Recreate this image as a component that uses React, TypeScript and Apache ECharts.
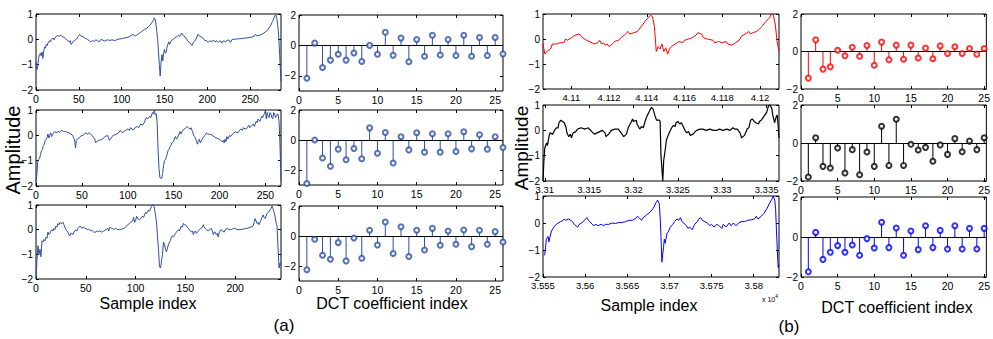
import React, { useEffect, useRef } from "react";
import * as echarts from "echarts";

// ---------- signals (a) ----------
const sigA1: [number, number][] = [[0,-0.9],[1,-1.2],[2,-1.05],[3,-0.75],[4,-0.6],[5,-0.55],[6,-0.65],[7,-0.5],[8,-0.75],[9,-0.45],[10,-0.3],[11,-0.35],[12,-0.2],[13,-0.25],[14,-0.15],[16,-0.05],[17,-0.1],[18,0.0],[20,0.05],[21,-0.02],[23,0.1],[25,0.15],[27,0.12],[29,0.16],[31,0.1],[33,0.08],[35,0.0],[37,-0.05],[39,-0.1],[40,-0.05],[41,-0.2],[43,-0.1],[45,-0.05],[47,0.0],[49,0.1],[51,0.2],[53,0.12],[55,0.1],[57,0.05],[60,0.0],[62,-0.05],[64,-0.1],[66,-0.05],[68,-0.08],[70,-0.02],[72,-0.06],[74,-0.1],[76,0.0],[78,-0.03],[80,-0.07],[83,-0.02],[86,-0.04],[89,-0.02],[92,-0.05],[95,0.0],[98,0.02],[101,0.03],[104,0.06],[107,0.08],[109,0.1],[111,0.15],[113,0.2],[115,0.14],[117,0.15],[119,0.2],[121,0.25],[123,0.3],[125,0.35],[127,0.4],[129,0.42],[131,0.5],[133,0.55],[135,0.65],[137,0.75],[138,0.85],[139,0.8],[140,0.6],[141,0.3],[142,0.0],[143,-0.5],[144,-1.0],[145,-1.45],[146,-0.9],[147,-0.6],[148,-0.85],[149,-0.55],[150,-0.4],[151,-0.55],[152,-0.5],[153,-0.3],[155,-0.1],[156,-0.2],[158,-0.05],[160,0.0],[162,0.05],[164,0.1],[166,0.15],[168,0.12],[170,0.25],[172,0.15],[174,0.1],[176,0.0],[178,-0.1],[180,-0.15],[182,-0.25],[184,-0.1],[186,-0.05],[188,0.1],[189,0.2],[191,0.12],[193,0.1],[195,0.05],[197,-0.05],[199,-0.05],[201,-0.12],[203,-0.05],[205,-0.1],[207,-0.03],[209,-0.1],[211,-0.05],[213,-0.12],[215,-0.05],[217,-0.15],[219,-0.05],[221,-0.1],[223,-0.05],[225,-0.02],[227,-0.12],[229,0.0],[232,0.0],[235,0.02],[238,0.02],[241,0.04],[244,0.05],[247,0.06],[250,0.08],[253,0.1],[255,0.12],[256,0.2],[258,0.14],[260,0.15],[262,0.18],[264,0.2],[266,0.25],[268,0.3],[270,0.35],[272,0.45],[274,0.55],[276,0.7],[278,0.85],[279,0.95],[280,0.97],[281,0.85],[282,0.6],[283,0.3],[284,-0.3],[285,-1.0],[286,-1.65]];

const sigA2: [number, number][] = [[0,-1.85],[1,-1.5],[2,-1.0],[3,-0.95],[4,-0.9],[5,-0.75],[6,-0.6],[7,-0.55],[8,-0.4],[9,-0.35],[10,-0.2],[11,-0.15],[12,-0.1],[13,0.05],[14,-0.1],[15,0.0],[16,0.1],[17,-0.05],[18,0.0],[19,0.1],[20,0.15],[22,0.1],[24,0.15],[26,0.12],[28,0.2],[30,0.15],[32,0.15],[34,0.12],[36,0.1],[38,0.05],[40,0.0],[41,-0.1],[42,-0.15],[43,-0.5],[44,-0.2],[45,-0.15],[47,-0.1],[49,-0.02],[51,0.0],[53,0.05],[54,0.1],[56,0.05],[58,0.1],[60,0.03],[61,0.0],[63,-0.1],[64,-0.15],[65,-0.3],[66,-0.25],[68,-0.2],[70,-0.18],[72,-0.15],[74,-0.1],[75,-0.05],[77,-0.02],[78,0.0],[79,-0.1],[80,-0.2],[82,-0.1],[84,0.0],[86,0.02],[88,0.05],[90,0.1],[92,0.2],[94,0.1],[96,0.15],[98,0.2],[100,0.25],[102,0.2],[103,0.3],[105,0.25],[106,0.2],[108,0.3],[110,0.35],[112,0.3],[114,0.45],[116,0.4],[118,0.5],[119,0.6],[120,0.7],[122,0.65],[124,0.75],[125,0.7],[127,0.9],[128,0.85],[129,1.0],[130,0.8],[131,0.85],[132,0.5],[133,-0.5],[134,-1.3],[135,-1.65],[136,-1.7],[137,-1.7],[138,-1.5],[139,-1.2],[140,-1.0],[141,-0.95],[142,-0.85],[143,-0.75],[144,-0.6],[145,-0.55],[146,-0.45],[147,-0.4],[148,-0.3],[150,-0.25],[151,-0.1],[152,-0.05],[153,-0.15],[154,-0.1],[156,0.05],[157,0.15],[158,0.05],[160,0.2],[162,0.25],[163,0.3],[165,0.35],[166,0.3],[168,0.25],[169,0.3],[170,0.2],[171,0.1],[172,0.0],[173,-0.05],[174,-0.15],[175,-0.25],[176,-0.35],[177,-0.2],[178,-0.15],[179,-0.3],[180,-0.25],[181,-0.15],[182,-0.1],[184,0.0],[186,0.1],[187,0.05],[189,0.05],[191,0.02],[192,0.0],[194,-0.05],[196,-0.1],[198,-0.12],[200,-0.15],[201,-0.2],[203,-0.25],[204,-0.2],[205,-0.3],[206,-0.15],[207,-0.25],[208,-0.05],[209,-0.15],[211,0.0],[212,-0.05],[214,0.05],[216,0.1],[217,0.15],[219,0.1],[220,0.1],[222,0.2],[223,0.25],[225,0.2],[226,0.3],[228,0.25],[229,0.25],[231,0.35],[232,0.4],[233,0.3],[234,0.35],[236,0.4],[237,0.45],[238,0.35],[240,0.55],[241,0.5],[242,0.65],[243,0.6],[244,0.55],[245,0.65],[246,0.75],[247,0.7],[248,0.8],[249,0.85],[250,1.0],[251,0.65],[252,0.9],[253,0.75],[254,0.7],[255,0.9],[256,0.85],[257,0.7],[258,0.65],[259,0.9],[260,0.85],[261,0.7],[262,0.75],[263,0.85],[264,0.8],[265,0.5],[266,-0.5],[267,-1.8]];

const sigA3: [number, number][] = [[0,-2.0],[1,-1.2],[2,-0.65],[3,-1.0],[4,-0.8],[5,-1.1],[6,-0.45],[7,-0.5],[8,-0.4],[9,-0.45],[10,-0.3],[11,-0.35],[12,-0.1],[13,-0.2],[14,-0.15],[15,-0.05],[16,0.0],[17,-0.05],[18,0.05],[19,0.0],[20,0.15],[21,0.1],[22,0.25],[23,0.2],[24,0.3],[25,0.25],[26,0.25],[27,0.3],[28,0.2],[29,0.1],[30,0.0],[31,-0.05],[32,-0.1],[33,-0.2],[34,-0.25],[35,-0.15],[36,-0.15],[37,-0.2],[38,-0.1],[39,-0.05],[40,0.0],[41,-0.05],[42,0.05],[43,0.1],[44,0.15],[45,0.1],[46,0.05],[47,0.1],[48,0.1],[49,0.05],[50,0.05],[52,0.0],[53,0.02],[55,-0.05],[56,-0.02],[58,-0.1],[60,-0.1],[61,-0.05],[63,-0.08],[64,-0.05],[66,-0.1],[68,-0.05],[70,0.0],[72,0.05],[73,-0.05],[74,0.1],[76,0.05],[77,0.05],[78,0.0],[80,0.05],[82,0.0],[84,0.0],[86,0.02],[88,0.05],[90,0.1],[92,0.2],[94,0.25],[95,0.3],[97,0.35],[98,0.5],[99,0.3],[100,0.35],[101,0.55],[102,0.45],[104,0.4],[105,0.45],[107,0.55],[108,0.5],[110,0.7],[111,0.65],[113,0.8],[114,0.75],[116,0.95],[117,1.0],[118,1.0],[119,0.85],[120,0.6],[121,0.3],[122,-0.3],[123,-0.8],[124,-1.5],[125,-1.55],[126,-1.3],[127,-1.0],[128,-0.5],[129,-0.6],[130,-0.8],[131,-0.9],[132,-0.75],[133,-0.6],[134,-0.5],[135,-0.45],[136,-0.3],[137,-0.25],[138,-0.3],[140,-0.15],[141,-0.1],[143,0.0],[144,-0.05],[146,0.15],[147,0.1],[148,0.25],[149,0.2],[150,0.2],[151,0.15],[152,0.1],[153,0.05],[154,0.0],[155,-0.05],[156,-0.1],[157,-0.05],[158,-0.2],[159,-0.1],[160,-0.05],[161,-0.15],[162,-0.1],[163,-0.05],[164,0.0],[165,0.05],[166,0.05],[167,0.1],[168,0.2],[169,0.1],[170,0.05],[171,0.0],[173,-0.05],[174,0.0],[176,0.05],[177,-0.05],[178,-0.2],[179,-0.1],[180,-0.1],[181,-0.2],[182,-0.15],[183,-0.3],[184,-0.1],[186,0.0],[187,-0.05],[189,-0.1],[190,0.0],[192,0.05],[194,0.0],[196,0.0],[198,0.05],[200,0.05],[202,0.0],[205,0.0],[208,0.02],[210,0.05],[212,0.05],[215,0.1],[217,0.12],[218,0.15],[219,0.3],[220,0.45],[221,0.35],[222,0.25],[223,0.3],[224,0.2],[225,0.3],[226,0.4],[227,0.5],[228,0.6],[229,0.5],[230,0.45],[231,0.55],[232,0.65],[233,0.7],[234,0.75],[235,0.8],[236,0.85],[237,0.95],[238,0.85],[239,0.7],[240,0.55],[241,0.3],[242,0.15],[243,-0.7],[244,-1.55],[245,-1.35],[246,-1.45]];

// ---------- signals (b) (sample index) ----------
const sigB1: [number, number][] = [[41085,-0.2],[41086,-0.6],[41087,-0.5],[41089,-0.4],[41090,-0.2],[41092,-0.2],[41094,-0.15],[41096,-0.15],[41097,0.0],[41098,-0.05],[41100,0.05],[41102,0.15],[41104,0.2],[41105,0.15],[41106,0.05],[41108,-0.05],[41111,-0.15],[41112,-0.2],[41114,-0.15],[41115,-0.05],[41116,-0.2],[41117,-0.15],[41118,-0.25],[41119,-0.2],[41120,-0.3],[41121,-0.25],[41123,-0.1],[41125,-0.05],[41127,0.1],[41128,0.15],[41130,0.3],[41131,0.2],[41133,0.25],[41135,0.3],[41136,0.4],[41138,0.6],[41140,0.8],[41142,0.95],[41143,0.9],[41144,0.5],[41145,-0.5],[41146,-0.3],[41147,-0.4],[41148,-0.2],[41149,-0.5],[41150,-0.35],[41151,-0.6],[41152,-0.4],[41153,-0.3],[41155,-0.2],[41157,-0.1],[41159,-0.15],[41160,-0.05],[41162,0.0],[41164,0.05],[41166,0.15],[41167,0.25],[41169,0.2],[41170,0.05],[41172,0.0],[41175,-0.05],[41176,-0.15],[41178,-0.1],[41180,-0.15],[41182,-0.1],[41183,-0.2],[41185,-0.25],[41187,-0.15],[41189,-0.05],[41190,0.1],[41192,0.2],[41194,0.3],[41195,0.2],[41196,0.25],[41198,0.3],[41199,0.35],[41201,0.5],[41203,0.7],[41205,0.85],[41206,1.0],[41207,0.95],[41208,0.6],[41209,-0.1],[41210,-0.5]];

const sigB2: [number, number][] = [[33098,-2.0],[33099,-1.2],[33100,-0.7],[33102,-0.5],[33103,-0.6],[33105,-0.2],[33106,-0.1],[33109,-0.15],[33111,0.0],[33113,0.1],[33115,0.1],[33116,0.3],[33118,0.4],[33120,0.35],[33122,0.3],[33124,0.1],[33125,-0.1],[33127,-0.25],[33129,-0.15],[33130,-0.3],[33132,-0.1],[33135,-0.05],[33137,0.05],[33141,0.1],[33145,0.05],[33149,0.1],[33153,-0.05],[33156,-0.15],[33159,-0.1],[33162,-0.05],[33165,0.0],[33168,-0.1],[33169,-0.25],[33172,-0.15],[33175,0.0],[33179,0.05],[33183,0.05],[33186,-0.1],[33189,-0.25],[33192,-0.15],[33194,0.1],[33197,0.3],[33199,0.45],[33200,0.35],[33203,0.4],[33204,0.25],[33207,0.05],[33209,0.15],[33211,0.1],[33213,0.35],[33215,0.55],[33218,0.75],[33220,0.9],[33222,0.85],[33224,0.6],[33226,0.4],[33229,0.4],[33230,0.35],[33231,-1.0],[33233,-2.0],[33234,-1.2],[33236,-0.7],[33237,-0.4],[33239,-0.2],[33241,-0.05],[33243,0.1],[33245,0.2],[33247,0.15],[33248,0.3],[33250,0.35],[33252,0.25],[33254,0.3],[33256,0.15],[33258,0.0],[33260,-0.1],[33262,-0.05],[33264,-0.2],[33267,-0.15],[33271,0.0],[33275,0.05],[33278,0.05],[33282,0.0],[33286,0.05],[33290,0.0],[33294,0.0],[33297,0.05],[33301,0.0],[33305,0.05],[33309,0.0],[33312,0.1],[33314,0.05],[33317,0.05],[33320,-0.1],[33322,-0.3],[33325,-0.2],[33327,-0.05],[33328,0.05],[33330,0.1],[33332,0.4],[33334,0.45],[33336,0.35],[33338,0.3],[33341,0.25],[33342,0.35],[33344,0.4],[33347,0.55],[33350,0.7],[33352,0.95],[33354,1.0],[33356,0.85],[33357,0.6],[33359,0.3],[33361,0.55],[33362,0.6],[33363,0.2],[33364,-0.3]];

const sigB3: [number, number][] = [[35552,-1.2],[35553,-0.9],[35554,-0.6],[35556,-0.5],[35557,-0.7],[35558,-0.55],[35560,-0.3],[35562,-0.2],[35564,-0.1],[35566,-0.05],[35568,0.0],[35571,0.05],[35574,0.1],[35575,0.15],[35577,0.1],[35580,0.15],[35583,0.1],[35585,0.05],[35587,-0.05],[35589,-0.1],[35591,-0.15],[35593,-0.05],[35596,0.0],[35599,0.1],[35602,0.2],[35604,0.1],[35607,0.0],[35610,-0.1],[35613,-0.05],[35615,-0.1],[35619,-0.05],[35622,-0.1],[35624,-0.05],[35628,-0.05],[35632,0.0],[35636,-0.02],[35640,0.02],[35644,0.02],[35648,0.05],[35652,0.1],[35656,0.1],[35659,0.15],[35662,0.25],[35664,0.2],[35667,0.1],[35669,0.2],[35673,0.3],[35677,0.4],[35681,0.55],[35684,0.75],[35686,0.85],[35688,0.7],[35689,0.2],[35690,-0.5],[35691,-1.45],[35693,-0.9],[35694,-0.6],[35695,-0.75],[35697,-0.4],[35699,-0.3],[35701,-0.15],[35704,-0.05],[35706,0.05],[35709,0.15],[35711,0.1],[35713,0.2],[35715,0.05],[35717,0.0],[35720,-0.1],[35722,-0.2],[35724,-0.15],[35727,-0.25],[35730,-0.05],[35733,0.05],[35735,0.15],[35737,0.2],[35739,0.1],[35742,0.05],[35745,0.0],[35748,-0.1],[35750,-0.05],[35753,-0.15],[35756,-0.05],[35759,-0.1],[35762,-0.2],[35764,-0.05],[35767,-0.15],[35771,0.0],[35773,-0.1],[35776,0.0],[35779,-0.1],[35782,0.0],[35785,0.05],[35789,0.05],[35793,0.1],[35797,0.12],[35801,0.15],[35803,0.25],[35805,0.15],[35809,0.25],[35812,0.35],[35816,0.55],[35819,0.75],[35822,0.9],[35823,1.0],[35825,0.85],[35826,0.5],[35827,-0.3],[35829,-1.65],[35830,-1.55]];

// ---------- DCT coefficients ----------
const dctA1 = [-2.16,0.15,-1.45,-0.97,-0.58,-0.97,-0.5,-1.06,0.0,-0.58,0.86,-0.65,0.48,-1.08,0.39,-0.71,0.67,-0.63,0.39,-0.67,0.67,-0.71,0.52,-0.67,0.52,-0.56];
const dctA2 = [-2.9,0.0,-1.2,-1.75,-0.61,-1.32,-0.57,-1.25,0.81,-0.88,0.5,-1.53,0.22,-0.66,0.48,-0.81,0.42,-0.81,0.42,-0.77,0.55,-0.59,0.35,-0.61,0.22,-0.5];
const dctA3 = [-2.25,-0.22,-1.28,-1.55,-0.44,-1.66,-0.13,-1.48,0.38,-0.6,0.93,-1.17,0.62,-1.37,0.38,-0.93,0.51,-0.62,0.33,-0.55,0.4,-0.71,0.38,-0.55,0.29,-0.4];
const dctB1 = [-1.42,0.62,-0.94,-0.81,0.07,-0.23,0.23,-0.25,0.32,-0.73,0.5,-0.44,0.34,-0.41,0.34,-0.35,0.18,-0.39,0.3,-0.11,0.25,-0.11,0.16,-0.14,0.16];
const dctB2 = [-1.79,0.28,-1.23,-1.32,-0.26,-1.58,-0.35,-1.67,-0.47,-1.23,0.88,-1.18,1.25,-1.18,-0.07,-0.37,-0.23,-0.96,-0.1,-0.6,0.23,-0.46,0.1,-0.35,0.28];
const dctB3 = [-1.74,0.23,-1.12,-0.76,-0.43,-0.76,-0.4,-0.91,-0.08,-0.55,0.74,-0.53,0.45,-0.91,0.3,-0.63,0.56,-0.53,0.33,-0.6,0.56,-0.6,0.43,-0.6,0.43];

// ---------- tick values ----------
const ticksSigA = [0, 50, 100, 150, 200, 250];
const ticksSigA3 = [0, 50, 100, 150, 200];
const ticksSigB1 = [41100, 41120, 41140, 41160, 41180, 41200];
const ticksSigB2 = [33100, 33150, 33200, 33250, 33300, 33350];
const ticksSigB3 = [35550, 35600, 35650, 35700, 35750, 35800];
const ticksDct = [0, 5, 10, 15, 20, 25];
const yTicksSig = [-2, -1, 0, 1];
const yTicksDct = [-2, 0, 2];

const FONT = "'Liberation Sans', Arial, sans-serif";
const BLUE_A = "#2d4fa3";

type Panel = {
  kind: "sig" | "dct";
  rect: [number, number, number, number];
  sig?: [number, number][];
  dct?: number[];
  color: string;
  lw: number;
  xMin: number; xMax: number; xTicks: number[];
  yMin: number; yMax: number; yTicks: number[];
  xFmt?: (v: number) => string;
  xSize: number;
};

const fmtB = (v: number) => String(+(v / 1e4).toFixed(4));
const fmtNum = (v: number) => (v < 0 ? "\u2212" + Math.abs(v) : String(v));

const panels: Panel[] = [
  { kind: "sig", rect: [36, 14, 245, 76], sig: sigA1, color: BLUE_A, lw: 1, xMin: 0, xMax: 286, xTicks: ticksSigA, yMin: -2, yMax: 1, yTicks: yTicksSig, xSize: 10.5 },
  { kind: "sig", rect: [36, 110, 245, 76], sig: sigA2, color: BLUE_A, lw: 1, xMin: 0, xMax: 267, xTicks: ticksSigA, yMin: -2, yMax: 1, yTicks: yTicksSig, xSize: 10.5 },
  { kind: "sig", rect: [36, 205, 245, 74], sig: sigA3, color: BLUE_A, lw: 1, xMin: 0, xMax: 246, xTicks: ticksSigA3, yMin: -2, yMax: 1, yTicks: yTicksSig, xSize: 10.5 },
  { kind: "dct", rect: [299, 15, 204, 76], dct: dctA1, color: BLUE_A, lw: 1, xMin: 0, xMax: 26, xTicks: ticksDct, yMin: -3, yMax: 2, yTicks: yTicksDct, xSize: 10.5 },
  { kind: "dct", rect: [299, 110, 204, 75], dct: dctA2, color: BLUE_A, lw: 1, xMin: 0, xMax: 26, xTicks: ticksDct, yMin: -3, yMax: 2, yTicks: yTicksDct, xSize: 10.5 },
  { kind: "dct", rect: [299, 206, 204, 75], dct: dctA3, color: BLUE_A, lw: 1, xMin: 0, xMax: 26, xTicks: ticksDct, yMin: -3, yMax: 2, yTicks: yTicksDct, xSize: 10.5 },
  { kind: "sig", rect: [543, 14, 236, 75], sig: sigB1, color: "#ff0000", lw: 1, xMin: 41085, xMax: 41210, xTicks: ticksSigB1, yMin: -2, yMax: 1, yTicks: yTicksSig, xFmt: fmtB, xSize: 9.5 },
  { kind: "sig", rect: [543, 105, 236, 76], sig: sigB2, color: "#000000", lw: 1.2, xMin: 33098, xMax: 33364, xTicks: ticksSigB2, yMin: -2, yMax: 1, yTicks: yTicksSig, xFmt: fmtB, xSize: 9.5 },
  { kind: "sig", rect: [543, 196, 236, 81], sig: sigB3, color: "#0000ff", lw: 1, xMin: 35550, xMax: 35830, xTicks: ticksSigB3, yMin: -2, yMax: 1, yTicks: yTicksSig, xFmt: fmtB, xSize: 9.5 },
  { kind: "dct", rect: [801, 14, 188, 75], dct: dctB1, color: "#ff0000", lw: 1, xMin: 0, xMax: 25.3, xTicks: ticksDct, yMin: -2, yMax: 2, yTicks: yTicksDct, xSize: 10.5 },
  { kind: "dct", rect: [801, 105, 188, 76], dct: dctB2, color: "#000000", lw: 1, xMin: 0, xMax: 25.3, xTicks: ticksDct, yMin: -2, yMax: 2, yTicks: yTicksDct, xSize: 10.5 },
  { kind: "dct", rect: [801, 197, 188, 80], dct: dctB3, color: "#0000ff", lw: 1, xMin: 0, xMax: 25.3, xTicks: ticksDct, yMin: -2, yMax: 2, yTicks: yTicksDct, xSize: 10.5 },
];

function buildOption() {
  const grid: any[] = [];
  const xAxis: any[] = [];
  const yAxis: any[] = [];
  const series: any[] = [];
  const tickStyle = { color: "#000", width: 1 };
  panels.forEach((p, i) => {
    const [l, t, w, h] = p.rect;
    grid.push({ left: l, top: t, width: w, height: h, show: true, borderColor: "#000", borderWidth: 1, backgroundColor: "#fff" });
    const common = { type: "value", gridIndex: i, splitLine: { show: false }, axisLine: { show: false, onZero: false } };
    xAxis.push({
      ...common, min: p.xMin, max: p.xMax, position: "bottom",
      axisTick: { inside: true, length: 3, customValues: p.xTicks, lineStyle: tickStyle },
      axisLabel: { customValues: p.xTicks, formatter: p.xFmt ? p.xFmt : fmtNum, fontSize: p.xSize, fontFamily: FONT, color: "#000", margin: 3, hideOverlap: false },
    });
    xAxis.push({
      ...common, min: p.xMin, max: p.xMax, position: "top",
      axisTick: { inside: true, length: 3, customValues: p.xTicks, lineStyle: tickStyle },
      axisLabel: { show: false },
    });
    yAxis.push({
      ...common, min: p.yMin, max: p.yMax, position: "left",
      axisTick: { inside: true, length: 3, customValues: p.yTicks, lineStyle: tickStyle },
      axisLabel: { customValues: p.yTicks, formatter: fmtNum, fontSize: 10, fontFamily: FONT, color: "#000", margin: 3 },
    });
    yAxis.push({
      ...common, min: p.yMin, max: p.yMax, position: "right",
      axisTick: { inside: true, length: 3, customValues: p.yTicks, lineStyle: tickStyle },
      axisLabel: { show: false },
    });
    const xi = 2 * i, yi = 2 * i;
    if (p.kind === "sig") {
      series.push({
        type: "line", xAxisIndex: xi, yAxisIndex: yi, data: p.sig, showSymbol: false, symbol: "none",
        lineStyle: { color: p.color, width: p.lw }, clip: true, silent: true,
      });
    } else {
      const data = (p.dct as number[]).map((v, k) => [k + 1, v]);
      const color = p.color;
      series.push({
        type: "custom", xAxisIndex: xi, yAxisIndex: yi, data, silent: true, clip: true,
        renderItem: (params: any, api: any) => {
          const x = api.value(0), y = api.value(1);
          const p0 = api.coord([x, 0]);
          const p1 = api.coord([x, y]);
          return { type: "line", shape: { x1: p0[0], y1: p0[1], x2: p1[0], y2: p1[1] }, style: { stroke: color, lineWidth: 1 } };
        },
        markLine: {
          silent: true, symbol: ["none", "none"], label: { show: false }, animation: false,
          lineStyle: { color: "#000", width: 1, type: "solid" }, data: [{ yAxis: 0 }],
        },
      });
      series.push({
        type: "scatter", xAxisIndex: xi, yAxisIndex: yi, data, symbol: "emptyCircle", symbolSize: 5, silent: true,
        itemStyle: { color: color, borderColor: color, borderWidth: 1.2 }, z: 5,
      });
    }
  });

  const graphic: any[] = [
    { type: "text", x: 13, y: 150, rotation: Math.PI / 2, style: { text: "Amplitude", fontSize: 20, fontFamily: FONT, fill: "#000", align: "center", verticalAlign: "middle" } },
    { type: "text", x: 521, y: 148, rotation: Math.PI / 2, style: { text: "Amplitude", fontSize: 19, fontFamily: FONT, fill: "#000", align: "center", verticalAlign: "middle" } },
    { type: "text", x: 148, y: 303, style: { text: "Sample index", fontSize: 16, fontFamily: FONT, fill: "#000", align: "center", verticalAlign: "middle" } },
    { type: "text", x: 392, y: 303, style: { text: "DCT coefficient index", fontSize: 16, fontFamily: FONT, fill: "#000", align: "center", verticalAlign: "middle" } },
    { type: "text", x: 649, y: 305, style: { text: "Sample index", fontSize: 16, fontFamily: FONT, fill: "#000", align: "center", verticalAlign: "middle" } },
    { type: "text", x: 897, y: 307, style: { text: "DCT coefficient index", fontSize: 16, fontFamily: FONT, fill: "#000", align: "center", verticalAlign: "middle" } },
    { type: "text", x: 284, y: 325, style: { text: "(a)", fontSize: 17, fontFamily: FONT, fill: "#000", align: "center", verticalAlign: "middle" } },
    { type: "text", x: 789, y: 326, style: { text: "(b)", fontSize: 17, fontFamily: FONT, fill: "#000", align: "center", verticalAlign: "middle" } },
    { type: "text", x: 762, y: 299, style: { text: "{a|x 10}{b|4}", fontFamily: FONT, fill: "#000", align: "left", verticalAlign: "middle", rich: { a: { fontSize: 7, fontFamily: FONT }, b: { fontSize: 5, fontFamily: FONT, padding: [0, 0, 6, 0] } } } },
  ];

  return { animation: false, backgroundColor: "#fff", grid, xAxis, yAxis, series, graphic };
}

export default function App() {
  const ref = useRef<HTMLDivElement>(null);
  useEffect(() => {
    if (!ref.current) return;
    const chart = echarts.init(ref.current, undefined, { renderer: "svg" });
    chart.setOption(buildOption() as any);
    return () => chart.dispose();
  }, []);
  return <div ref={ref} style={{ position: "absolute", left: 0, top: 0, width: 993, height: 339 }} />;
}
